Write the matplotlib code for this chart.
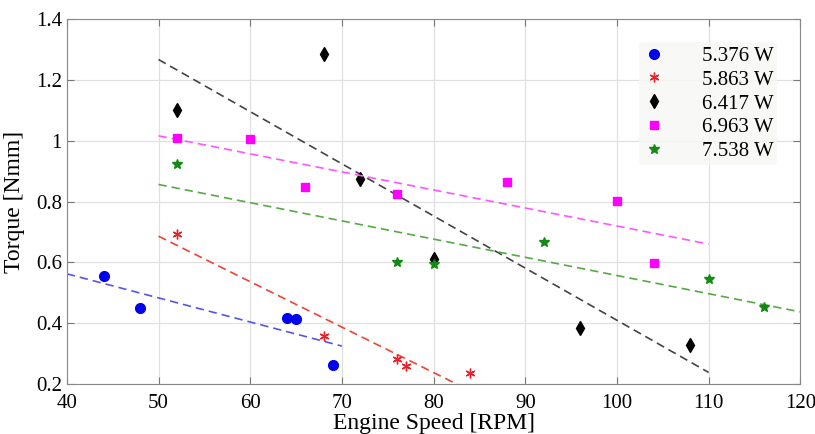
import matplotlib.pyplot as plt
import numpy as np

plt.rcParams['font.family'] = ['Liberation Serif', 'DejaVu Serif']

# datos
labels = ['5.376 W', '5.863 W', '6.417 W', '6.963 W', '7.538 W']
colors = ['#0000ee', '#e8202a', 'black', '#ff00ff', '#138a13']
line_colors = ['#5555ee', '#ee4433', '#444444', '#ff55ff', '#55aa44']
markers = ['o', (6, 2, 0), 'd', 's', '*']

rpm = [
    [44, 48, 64, 65, 69],
    [52, 68, 76, 77, 84],
    [52, 68, 72, 80, 96, 108],
    [52, 60, 66, 76, 88, 100, 104],
    [52, 76, 80, 92, 110, 116],
]
torque = [
    [0.555, 0.450, 0.418, 0.415, 0.262],
    [0.695, 0.357, 0.283, 0.260, 0.237],
    [1.100, 1.285, 0.875, 0.612, 0.383, 0.330],
    [1.008, 1.005, 0.848, 0.825, 0.865, 0.802, 0.598],
    [0.925, 0.600, 0.595, 0.668, 0.545, 0.452],
]
# rango de cada linea de tendencia
fit_range = [[40, 70], [50, 90], [50, 110], [50, 110], [50, 120]]
sizes = [7, 7, 7.5, 6, 7]

fig = plt.figure(figsize=(8.15, 4.34), dpi=100)
ax = fig.add_axes([0.082, 0.115, 0.9, 0.841])

for i in range(len(labels)):
    x = np.array(rpm[i])
    y = np.array(torque[i])
    # regresion lineal simple
    m, b = np.polyfit(x, y, 1)
    xr = np.array(fit_range[i])
    ax.plot(xr, m * xr + b, '--', color=line_colors[i], lw=1.2, dashes=(5, 3))
    ax.plot(x, y, linestyle='none', marker=markers[i], color=colors[i],
            markersize=sizes[i], markeredgewidth=1.0, label=labels[i])

ax.set_xlim(40, 120)
ax.set_ylim(0.2, 1.4)
ax.set_xticks(range(40, 121, 10))
ax.set_yticks([0.2, 0.4, 0.6, 0.8, 1.0, 1.2, 1.4])
ax.set_yticklabels(['0.2', '0.4', '0.6', '0.8', '1', '1.2', '1.4'])
ax.grid(True, color='#e0e0e0', lw=0.9)
ax.set_axisbelow(True)
ax.tick_params(direction='in', top=True, right=True, labelsize=15,
               color='#777777', length=5)
ax.tick_params(axis='x', pad=7)
for s in ax.spines.values():
    s.set_color('#888888')

ax.set_xlabel('Engine Speed [RPM]', fontsize=17, labelpad=0)
ax.set_ylabel('Torque [Nmm]', fontsize=17, labelpad=8)

leg = ax.legend(loc='upper right', bbox_to_anchor=(0.983, 0.965), frameon=True,
                fontsize=15, handletextpad=1.8, labelspacing=0.2,
                borderpad=0.2, handlelength=1.0)
leg.get_frame().set_facecolor('#f7f7f4')
leg.get_frame().set_edgecolor('none')

fig.savefig('out.png', dpi=100)
